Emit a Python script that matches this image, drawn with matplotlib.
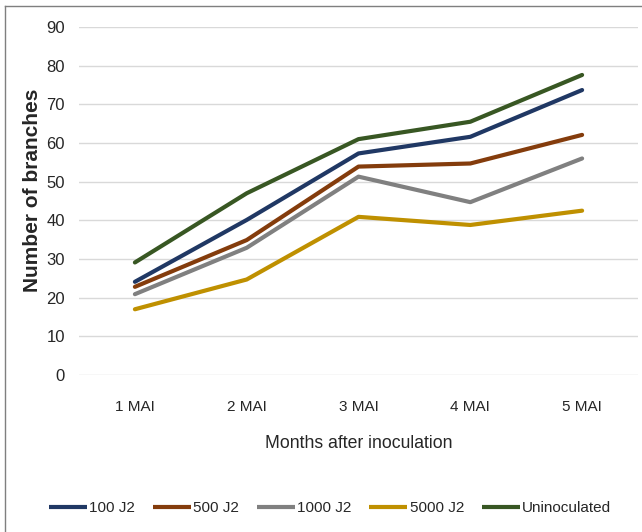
import matplotlib.pyplot as plt
from matplotlib.lines import Line2D

plt.rcParams['font.family'] = ['Liberation Sans', 'DejaVu Sans']

months = ["1 MAI", "2 MAI", "3 MAI", "4 MAI", "5 MAI"]
series_names = ["100 J2", "500 J2", "1000 J2", "5000 J2", "Uninoculated"]
j2_100 = [24.1, 40.1, 57.3, 61.6, 73.7]
j2_500 = [22.8, 34.9, 53.9, 54.7, 62.1]
j2_1000 = [20.9, 32.9, 51.3, 44.7, 56.0]
j2_5000 = [17.0, 24.7, 40.9, 38.8, 42.5]
uninoculated = [29.1, 47.0, 61.0, 65.5, 77.6]
colors = ["#203864", "#843C0C", "#808080", "#BF9000", "#385723"]

W, H = 642, 532
fig = plt.figure(figsize=(W / 100, H / 100), dpi=100)
ax = fig.add_axes([79 / W, (H - 375) / H, 559 / W, 348 / H])

x = list(range(1, len(months) + 1))
for name, vals, col in zip(series_names,
                           [j2_100, j2_500, j2_1000, j2_5000, uninoculated],
                           colors):
    ax.plot(x, vals, color=col, lw=3, solid_capstyle='round', label=name)

ax.set_ylim(0, 90)
ax.set_yticks(range(0, 91, 10))
ax.set_xlim(0.5, 5.5)
ax.set_xticks(x)
ax.set_xticklabels(months)
ax.grid(axis='y', color='#d9d9d9', lw=1)
ax.set_axisbelow(True)
for s in ax.spines.values():
    s.set_visible(False)
ax.tick_params(length=0, colors='#262626')
ax.tick_params(axis='x', pad=18, labelsize=11)
ax.tick_params(axis='y', pad=10, labelsize=12)

ax.set_xlabel("Months after inoculation", fontsize=12.7, color='#262626', labelpad=15)
fig.text(33 / W, (H - 190) / H, "Number of branches", rotation=90,
         ha='center', va='center', fontsize=15, fontweight='bold', color='#262626')

handles = [Line2D([], [], color=c, lw=3, solid_capstyle='butt') for c in colors]
fig.legend(handles, series_names, loc='center', bbox_to_anchor=(330 / W, (H - 508) / H),
           ncol=5, frameon=False, fontsize=11, handlelength=2.5, handletextpad=0.15,
           columnspacing=1.15, borderpad=0, labelcolor='#262626')

# outer chart border
fig.add_artist(Line2D([5 / W, 5 / W], [0, 1 - 6 / H], transform=fig.transFigure,
                      color='#7f7f7f', lw=1))
fig.add_artist(Line2D([5 / W, 1], [1 - 6 / H, 1 - 6 / H], transform=fig.transFigure,
                      color='#7f7f7f', lw=1))

fig.savefig("out.png", dpi=100)
